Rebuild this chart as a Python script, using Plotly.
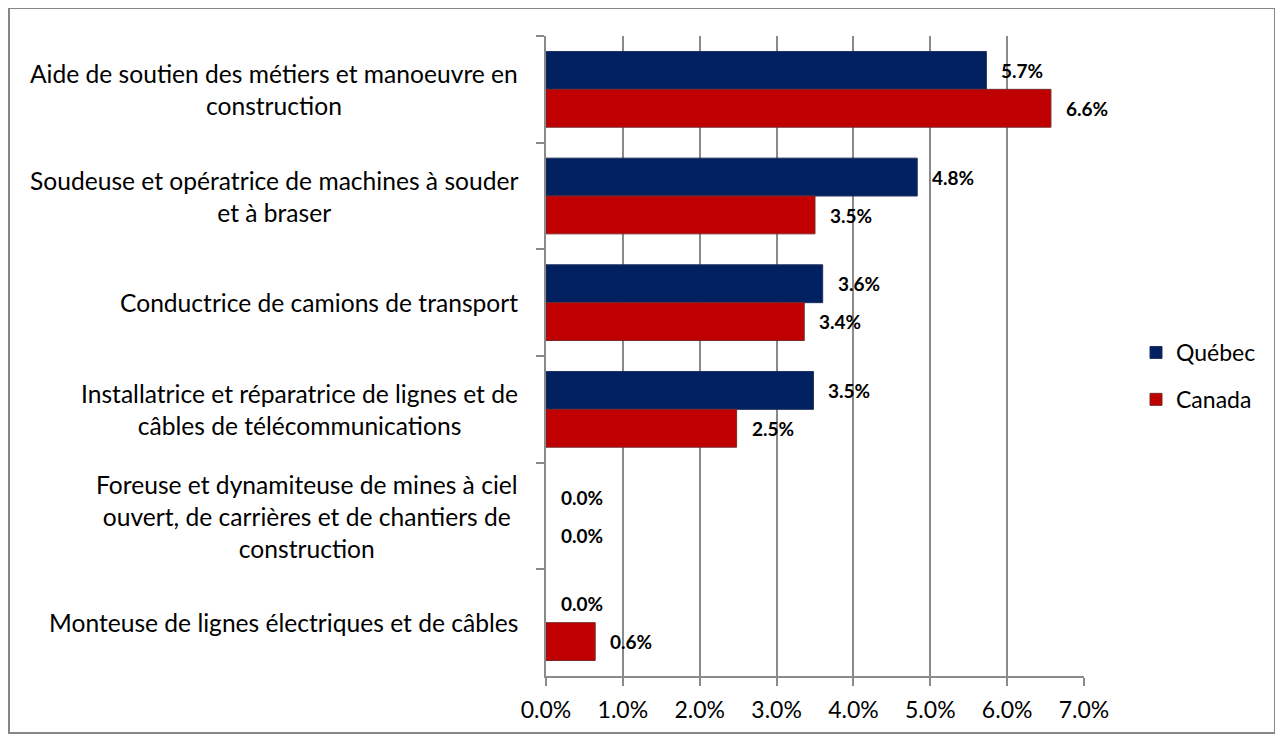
import plotly.graph_objects as go

categories = [
    "Aide de soutien des métiers et manoeuvre en<br>construction",
    "Soudeuse et opératrice de machines à souder<br>et à braser",
    "Conductrice de camions de transport",
    "Installatrice et réparatrice de lignes et de<br>câbles de télécommunications",
    "Foreuse et dynamiteuse de mines à ciel<br>ouvert, de carrières et de chantiers de<br>construction",
    "Monteuse de lignes électriques et de câbles",
]
quebec = [5.73, 4.83, 3.60, 3.48, 0.0, 0.0]
canada = [6.57, 3.50, 3.36, 2.48, 0.0, 0.64]
x_ticks = [0, 1, 2, 3, 4, 5, 6, 7]

FONT = "Lato"
GRID = "#8a8a8a"
# the page body adds an 8px margin; size the figure so the page fills 1283x739
OX, OY = 8, 8
W, H = 1283 - OX, 739 - OY
L, R, T, B = 546 - OX, 1084 - OX, 36 - OY, 676 - OY

fig = go.Figure()
fig.add_trace(go.Bar(
    y=categories, x=quebec, orientation="h", name="Québec",
    marker=dict(color="#002060",
                line=dict(color="#1f3060", width=[1 if v > 0 else 0 for v in quebec])),
    legendgroup="q", hoverinfo="x",
))
fig.add_trace(go.Bar(
    y=categories, x=canada, orientation="h", name="Canada",
    marker=dict(color="#C00000",
                line=dict(color="#7a2a2a", width=[1 if v > 0 else 0 for v in canada])),
    legendgroup="c", hoverinfo="x",
))

annotations = []
for c in categories:
    annotations.append(dict(
        x=0, xref="paper", y=c, yref="y", text=c, showarrow=False,
        xanchor="right", yanchor="middle", align="center", xshift=-26,
        font=dict(family=FONT, size=24.6, color="#000000"),
    ))
for series, shift in ((quebec, 19), (canada, -19)):
    for c, v in zip(categories, series):
        annotations.append(dict(
            x=v, xref="x", y=c, yref="y", text=f"<b>{v:.1f}%</b>",
            showarrow=False, xanchor="left", yanchor="middle",
            xshift=13, yshift=shift,
            font=dict(family=FONT, size=19, color="#000000"),
        ))

pw, ph = R - L, B - T
fig.update_layout(
    width=W, height=H,
    margin=dict(l=L, r=W - R, t=T, b=H - B, pad=0),
    paper_bgcolor="white", plot_bgcolor="white",
    barmode="group", bargap=0.29, bargroupgap=0,
    font=dict(family=FONT, size=23, color="#000000"),
    showlegend=True,
    legend=dict(
        x=(1128 - L) / pw, xanchor="left", y=(B - 368) / ph, yanchor="middle",
        font=dict(family=FONT, size=23, color="#000000"),
        tracegroupgap=14, bgcolor="rgba(0,0,0,0)",
    ),
    annotations=annotations,
    shapes=[dict(
        type="rect", xref="paper", yref="paper",
        x0=(1 - L) / pw, x1=(1267 - L) / pw,
        y0=(B - 725) / ph, y1=(B - 0) / ph,
        line=dict(color="#868686", width=2), fillcolor="rgba(0,0,0,0)",
        layer="below",
    )],
)
fig.update_xaxes(
    range=[0, 7], tickvals=x_ticks, ticktext=[f"{t:.1f}%" for t in x_ticks],
    showgrid=True, gridcolor=GRID, gridwidth=1.5,
    showline=True, linecolor=GRID, linewidth=1.5,
    ticks="outside", ticklen=8, tickcolor=GRID, tickwidth=1.5,
    ticklabelstandoff=5, zeroline=False,
    tickfont=dict(family=FONT, size=23, color="#000000"),
)
fig.update_yaxes(
    autorange="reversed", showticklabels=False,
    showgrid=False, showline=True, linecolor=GRID, linewidth=1.5,
    ticks="outside", ticklen=8, tickcolor=GRID, tickwidth=1.5,
    tickson="boundaries",
)

fig.write_html("out.html")
